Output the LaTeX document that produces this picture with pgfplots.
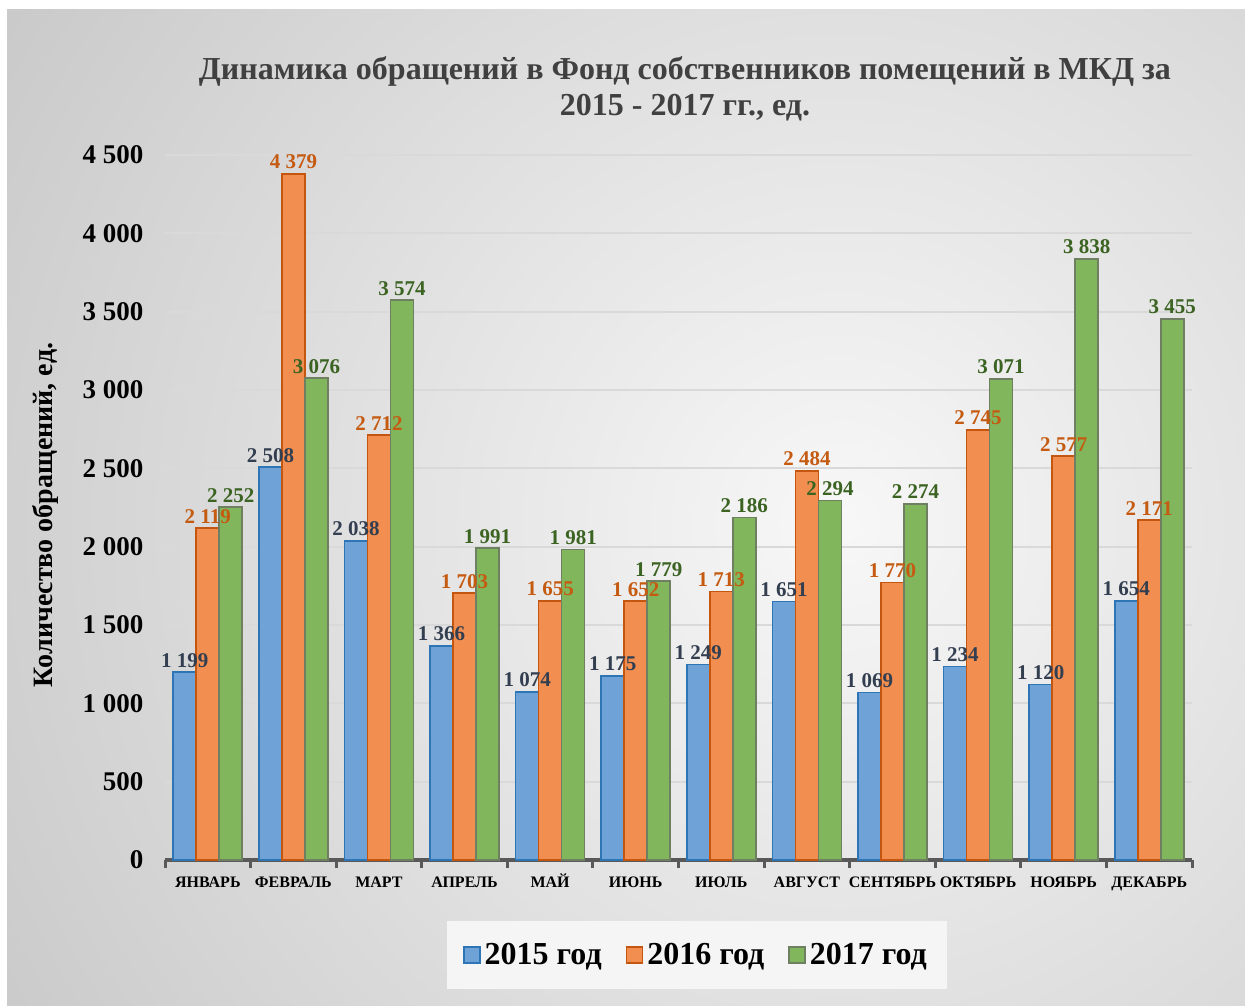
\documentclass[border=0pt]{standalone}
\usepackage{pgfplots}
\pgfplotsset{compat=1.18}
\usepackage{fontspec}
\setmainfont{Liberation Serif}
\definecolor{bfill}{HTML}{6FA3D8}
\definecolor{bedge}{HTML}{2E75B6}
\definecolor{ofill}{HTML}{F28E4F}
\definecolor{oedge}{HTML}{C5560F}
\definecolor{gfill}{HTML}{82B65C}
\definecolor{gedge}{HTML}{6E7F62}
\definecolor{blab}{HTML}{333F50}
\definecolor{olab}{HTML}{C55A11}
\definecolor{glab}{HTML}{3B6322}
\definecolor{ttl}{HTML}{404040}
\begin{document}
\begin{tikzpicture}
\useasboundingbox (0pt,0pt) rectangle (622.5pt,502.5pt);
\fill[white] (0pt,0pt) rectangle (622.5pt,502.5pt);
\begin{scope}
\clip (3.5pt,0pt) rectangle (622.5pt,497.5pt);
\fill[black!22] (3.5pt,0pt) rectangle (622.5pt,497.5pt);
\shade[inner color=white!97!black, outer color=black!22] (420pt,240pt) circle (520pt);
\end{scope}
\node[font=\bfseries\fontsize{16}{18}\selectfont, text=ttl, align=center] at (342.5pt,458pt) {Динамика обращений в Фонд собственников помещений в МКД за\\2015 - 2017 гг., ед.};
\node[font=\bfseries\fontsize{14}{14}\selectfont, rotate=90] at (22.5pt,245pt) {Количество обращений, ед.};
\begin{axis}[
  at={(82.5pt,72.5pt)}, anchor=south west, scale only axis,
  width=513.5pt, height=352.5pt,
  ymin=0, ymax=4500, xmin=-0.5, xmax=11.5,
  ytick={0,500,...,4500}, scaled y ticks=false,
  ymajorgrids, grid style={black!15, line width=1pt},
  axis x line*=bottom, axis y line*=left,
  y axis line style={draw=none}, ytick style={draw=none},
  x axis line style={line width=2pt, draw=black!65},
  xtick={0,...,11}, major x tick style={draw=none},
  minor xtick={-0.5,0.5,...,11.5}, minor x tick style={line width=1.5pt, draw=black!65},
  minor tick length=4pt, tick align=outside,
  xticklabels={ЯНВАРЬ,ФЕВРАЛЬ,МАРТ,АПРЕЛЬ,МАЙ,ИЮНЬ,ИЮЛЬ,АВГУСТ,СЕНТЯБРЬ,ОКТЯБРЬ,НОЯБРЬ,ДЕКАБРЬ},
  xticklabel style={font=\bfseries\fontsize{8}{8}\selectfont, yshift=0pt, text height=6pt, text depth=0pt},
  yticklabel style={font=\bfseries\fontsize{13.5}{13.5}\selectfont, xshift=-3pt},
  /pgf/number format/1000 sep={\ }, /pgf/number format/assume math mode=true,
  ybar=0pt, bar width=11.5pt,
  nodes near coords,
  nodes near coords style={font=\bfseries\fontsize{10.5}{10.5}\selectfont, inner sep=2pt},
  legend style={at={(0.518,-0.135)}, anchor=center, draw=none, fill=black!4,
    font=\bfseries\fontsize{16}{16}\selectfont, inner xsep=8pt, inner ysep=9pt,
    /tikz/every even column/.append style={column sep=10pt}},
  legend columns=3,
  legend image code/.code={\draw[#1, line width=0.8pt] (0pt,-4pt) rectangle (8pt,4pt);},
]
\addplot[fill=bfill, draw=bedge, line width=0.8pt, nodes near coords style={text=blab}] coordinates {
(0,1199) (1,2508) (2,2038) (3,1366) (4,1074) (5,1175) (6,1249) (7,1651) (8,1069) (9,1234) (10,1120) (11,1654)};
\addplot[fill=ofill, draw=oedge, line width=0.8pt, nodes near coords style={text=olab}] coordinates {
(0,2119) (1,4379) (2,2712) (3,1703) (4,1655) (5,1652) (6,1713) (7,2484) (8,1770) (9,2745) (10,2577) (11,2171)};
\addplot[fill=gfill, draw=gedge, line width=0.8pt, nodes near coords style={text=glab}] coordinates {
(0,2252) (1,3076) (2,3574) (3,1991) (4,1981) (5,1779) (6,2186) (7,2294) (8,2274) (9,3071) (10,3838) (11,3455)};
\legend{2015 год, 2016 год, 2017 год}
\end{axis}
\end{tikzpicture}
\end{document}
